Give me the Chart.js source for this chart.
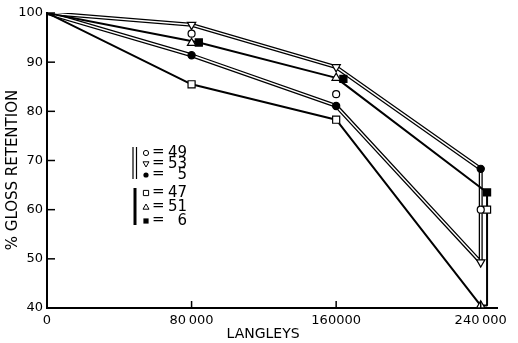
<!DOCTYPE html>
<html>
<head>
<meta charset="utf-8">
<script src="https://cdn.jsdelivr.net/npm/chart.js@4/dist/chart.umd.min.js"></script>
<style>
  html, body { margin: 0; padding: 0; background: #fff; }
</style>
</head>
<body>
<canvas id="glossChart" width="518" height="343"></canvas>
<script>
// Langley exposure values (x), % gloss retention for each sample (y)
const langleys = [0, 80000, 160000, 240000];
const x47 = [0, 80000, 160000, 243500];   // squares plotted a little right at the end
const x6 = [0, 84000, 164000, 243500];    // filled squares plotted offset

const s49 = [100, 95.8, 83.5, 60.0];
const s53 = [100, 97.6, 89.0, 49.3];
const s5 = [100, 91.4, 81.1, 68.3];
const s47 = [100, 85.5, 78.3, 60.0];
const s51 = [100, 93.9, 86.8, 40.5];
const s6 = [100, 94.0, 86.6, 63.5];

const yTicks = [40, 50, 60, 70, 80, 90, 100];
const xTickLabels = ['0', '80\u2009000', '160000', '240\u2009000'];

const legendSymbols = ['o', 'v', 'dot', 'sq', 'tri', 'fsq'];
const legendLabels = ['49', '53', '5', '47', '51', '6'];

const FONT = 'DejaVu Sans';
const NB = '\u00a0';

function pts(xs, ys) {
    return xs.map((x, i) => ({ x: x, y: ys[i] }));
}

// upper and lower bound of a group, joined into one outline
function envelope(group) {
    const upper = [], lower = [];
    for (let i = 0; i < langleys.length; i++) {
        let hi = group[0][i], lo = group[0][i];
        group.forEach(s => {
            if (s[i].y > hi.y) hi = s[i];
            if (s[i].y < lo.y) lo = s[i];
        });
        upper.push(hi);
        lower.push(lo);
    }
    const last = upper[upper.length - 1];
    const minLast = lower[lower.length - 1];
    return upper.concat([{ x: last.x, y: minLast.y }], lower.slice().reverse());
}

const p49 = pts(langleys, s49), p53 = pts(langleys, s53), p5 = pts(langleys, s5);
const p47 = pts(x47, s47), p51 = pts(langleys, s51), p6 = pts(x6, s6);

const doubleOutline = envelope([p49, p53, p5]);
const singleOutline = envelope([p47, p51, p6]);

function lineSet(data, width, color, order) {
    return {
        data: data, showLine: true, pointRadius: 0,
        borderColor: color, borderWidth: width, order: order,
        borderJoinStyle: 'bevel', tension: 0
    };
}

function markerSet(data, style, radius, fill, rotation) {
    return {
        data: data.slice(1), showLine: false,
        pointStyle: style, pointRadius: radius, pointRotation: rotation || 0,
        pointBackgroundColor: fill, pointBorderColor: '#000', pointBorderWidth: 1.2,
        order: 0
    };
}

// inward tick marks + the bracketed key
const extras = {
    id: 'extras',
    afterDraw(chart) {
        const ctx = chart.ctx;
        const xs = chart.scales.x, ys = chart.scales.y;
        const area = chart.chartArea;
        ctx.save();
        ctx.strokeStyle = '#000';
        ctx.lineWidth = 1.5;
        yTicks.forEach(v => {
            const y = ys.getPixelForValue(v);
            ctx.beginPath();
            ctx.moveTo(area.left, y);
            ctx.lineTo(area.left + 8, y);
            ctx.stroke();
        });
        langleys.slice(1).forEach(v => {
            const x = xs.getPixelForValue(v);
            ctx.beginPath();
            ctx.moveTo(x, area.bottom);
            ctx.lineTo(x, area.bottom - 7);
            ctx.stroke();
        });

        // key
        const rowY = [153, 164, 175, 193, 207, 221];
        const symX = 146;
        ctx.lineWidth = 1.2;
        ctx.beginPath();
        ctx.moveTo(133, 147); ctx.lineTo(133, 179);
        ctx.moveTo(136.5, 147); ctx.lineTo(136.5, 179);
        ctx.stroke();
        ctx.lineWidth = 3;
        ctx.beginPath();
        ctx.moveTo(135, 188); ctx.lineTo(135, 225);
        ctx.stroke();

        ctx.font = '15px ' + FONT;
        ctx.fillStyle = '#000';
        ctx.textBaseline = 'middle';
        legendSymbols.forEach((s, i) => {
            const y = rowY[i];
            ctx.lineWidth = 1;
            ctx.beginPath();
            if (s === 'o' || s === 'dot') {
                ctx.arc(symX, y, 2.6, 0, Math.PI * 2);
            } else if (s === 'sq' || s === 'fsq') {
                ctx.rect(symX - 2.6, y - 2.6, 5.2, 5.2);
            } else if (s === 'v') {
                ctx.moveTo(symX - 3, y - 2.2); ctx.lineTo(symX + 3, y - 2.2); ctx.lineTo(symX, y + 3); ctx.closePath();
            } else if (s === 'tri') {
                ctx.moveTo(symX - 3, y + 2.2); ctx.lineTo(symX + 3, y + 2.2); ctx.lineTo(symX, y - 3); ctx.closePath();
            }
            if (s === 'dot' || s === 'fsq') ctx.fill(); else ctx.stroke();
            ctx.textAlign = 'left';
            ctx.fillText('=', 152, y - 1);
            ctx.textAlign = 'right';
            ctx.fillText(legendLabels[i], 187, y);
        });
        ctx.restore();
    }
};

const ctx1 = document.getElementById('glossChart').getContext('2d');
const glossChart = new Chart(ctx1, {
    type: 'scatter',
    data: {
        datasets: [
            lineSet(doubleOutline, 4, '#000', 4),
            lineSet(doubleOutline, 1.4, '#fff', 3),
            lineSet(singleOutline, 2, '#000', 2),
            markerSet(p49, 'circle', 3.5, '#fff'),
            markerSet(p53, 'triangle', 4.8, '#fff', 180),
            markerSet(p5, 'circle', 3.6, '#000'),
            markerSet(p47, 'rect', 5, '#fff'),
            markerSet(p51, 'triangle', 4.8, '#fff'),
            markerSet(p6, 'rect', 5, '#000')
        ]
    },
    options: {
        responsive: false,
        animation: false,
        devicePixelRatio: 1,
        layout: { padding: { top: 13, right: 21, left: 0, bottom: 0 } },
        plugins: { legend: { display: false }, tooltip: { enabled: false } },
        scales: {
            x: {
                type: 'linear', min: 0, max: 249000,
                afterBuildTicks: scale => { scale.ticks = langleys.map(v => ({ value: v })); },
                afterFit: scale => { scale.height = 35; },
                grid: { display: false, drawTicks: false },
                border: { color: '#000', width: 2 },
                ticks: {
                    color: '#000', padding: 5, maxRotation: 0, autoSkip: false,
                    font: { family: FONT, size: 13 },
                    callback: (v, i) => xTickLabels[i]
                },
                title: {
                    display: true, text: 'LANGLEYS' + NB.repeat(4), color: '#000', padding: 0,
                    font: { family: FONT, size: 14 }
                }
            },
            y: {
                min: 40, max: 100,
                afterBuildTicks: scale => { scale.ticks = yTicks.map(v => ({ value: v })); },
                afterFit: scale => { scale.width = 47; },
                grid: { display: false, drawTicks: false },
                border: { color: '#000', width: 2 },
                ticks: {
                    color: '#000', padding: 4,
                    font: { family: FONT, size: 13 }
                },
                title: {
                    display: true, text: '% GLOSS RETENTION' + NB.repeat(4), color: '#000', padding: 4,
                    font: { family: FONT, size: 15 }
                }
            }
        }
    },
    plugins: [extras]
});
</script>
</body>
</html>
